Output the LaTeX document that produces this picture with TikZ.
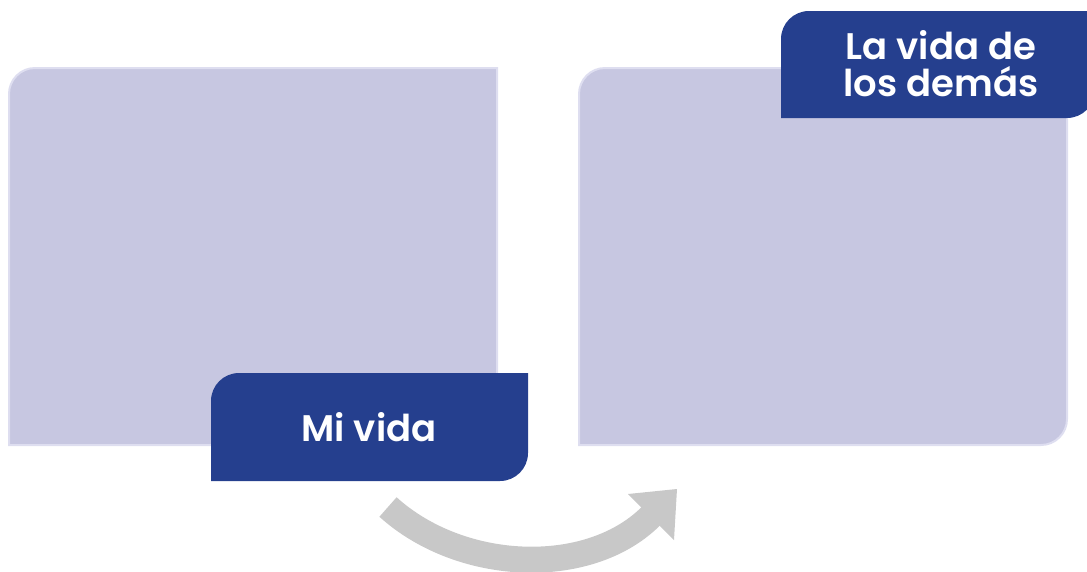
\documentclass[tikz,border=0pt]{standalone}
\usepackage{fontspec}
\setmainfont{Poppins}[BoldFont={* SemiBold}]
\definecolor{boxfill}{HTML}{C7C7E1}
\definecolor{boxedge}{HTML}{DEDEF0}
\definecolor{labelblue}{HTML}{253F8E}
\definecolor{arrowgray}{HTML}{C8C8C8}
\newcommand\cornerbox[6]{%
 \path[#6] (#1,#4) -- (#1,{#2+#5}) .. controls (#1,{#2+0.448*#5}) and ({#1+0.448*#5},#2) .. ({#1+#5},#2) -- (#3,#2) -- (#3,{#4-#5}) .. controls (#3,{#4-0.448*#5}) and ({#3-0.448*#5},#4) .. ({#3-#5},#4) -- cycle;}
\begin{document}
\begin{tikzpicture}[x=1pt,y=-1pt,
  panel/.style={fill=boxfill,draw=boxedge,line width=2pt},
  tag/.style={fill=labelblue},
  tagtext/.style={text=white,font=\bfseries\fontsize{37}{37}\selectfont,align=center,inner sep=0pt},
  curvedshaft/.style={draw=arrowgray,line width=26pt,line cap=butt}]
\useasboundingbox (0,0) rectangle (1087,571);
\cornerbox{9}{68}{497}{445}{26}{panel}
\cornerbox{579}{68}{1067}{445}{26}{panel}
\cornerbox{211}{373}{528}{481}{28}{tag}
\cornerbox{781}{11}{1095}{118}{28}{tag}
\node[tagtext] (mivida) at (369,427) {Mi vida};
\node[tagtext,anchor=base] (demas) at (941,96) {La vida de\\los demás};
\coordinate (s) at (388,507);
\coordinate (e) at (653,514);
\path[curvedshaft] (s) .. controls (462,574) and (592,578) .. (e);
\fill[arrowgray] (628,494) -- (677,489) -- (674,540) -- cycle;
\end{tikzpicture}
\end{document}
